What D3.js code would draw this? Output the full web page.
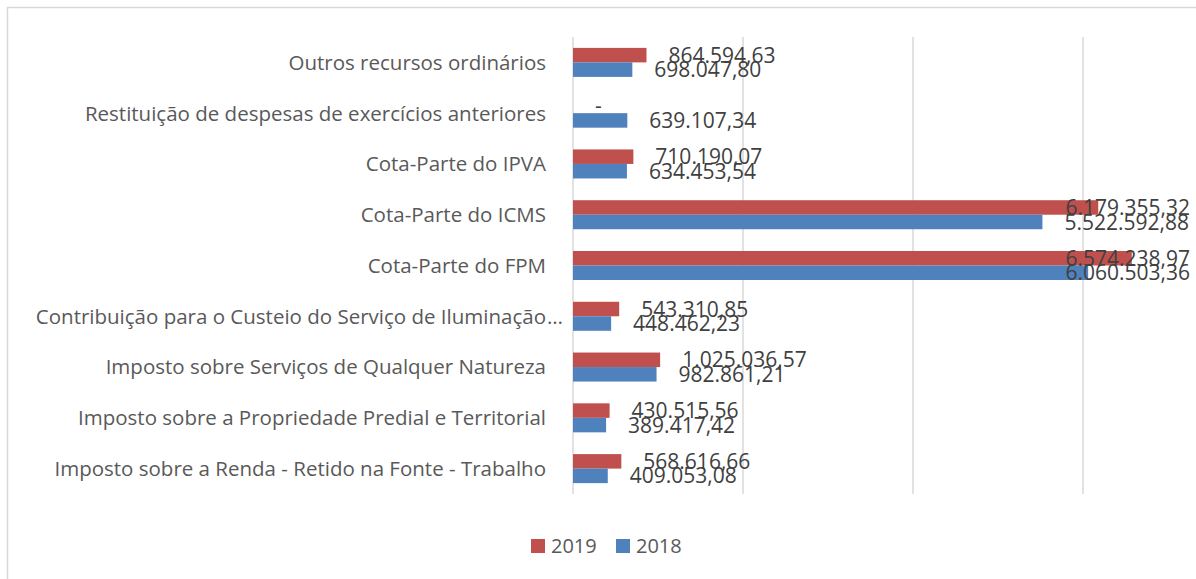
<!DOCTYPE html>
<html><head><meta charset="utf-8">
<script src="https://cdn.jsdelivr.net/npm/d3@7"></script>
<style>body{margin:0;background:#fff}svg{display:block}</style>
</head><body><svg id="c" width="1196" height="579"></svg>
<script>
const categories = [
  "Outros recursos ordinários",
  "Restituição de despesas de exercícios anteriores",
  "Cota-Parte do IPVA",
  "Cota-Parte do ICMS",
  "Cota-Parte do FPM",
  "Contribuição para o Custeio do Serviço de Iluminação…",
  "Imposto sobre Serviços de Qualquer Natureza",
  "Imposto sobre a Propriedade Predial e Territorial ",
  "Imposto sobre a Renda - Retido na Fonte - Trabalho"
];
const series = ["2019", "2018"];
const values2019 = [864594.63, 0, 710190.07, 6179355.32, 6574238.97, 543310.85, 1025036.57, 430515.56, 568616.66];
const values2018 = [698047.80, 639107.34, 634453.54, 5522592.88, 6060503.36, 448462.23, 982861.21, 389417.42, 409053.08];
const gridTicks = [0, 2000000, 4000000, 6000000, 8000000];
const colors = {"2019": "#C0504D", "2018": "#4F81BD"};

const svg = d3.select("#c");
const plotLeft = 573, plotTop = 37, plotBottom = 494, labelLimit = 1190;

svg.append("rect").attr("x", 7.5).attr("y", 7.5).attr("width", 1300).attr("height", 700)
  .attr("fill", "none").attr("stroke", "#d9d9d9").attr("stroke-width", 1.5);

const x = d3.scaleLinear().domain([0, 8000000]).range([plotLeft, plotLeft + 680]);
const y = d3.scaleBand().domain(categories).range([plotTop, plotBottom]);
const ys = d3.scaleBand().domain(series).range([0, y.bandwidth()]).paddingInner(0).paddingOuter(0.75);

svg.append("g").selectAll("line").data(gridTicks).join("line")
  .attr("x1", d => x(d)).attr("x2", d => x(d))
  .attr("y1", plotTop).attr("y2", plotBottom)
  .attr("stroke", "#d9d9d9").attr("stroke-width", 1.5);

const fmt = d3.formatLocale({decimal: ",", thousands: ".", grouping: [3], currency: ["", ""]}).format(",.2f");

const rows = [];
categories.forEach((c, i) => {
  rows.push({cat: c, s: "2019", v: values2019[i]});
  rows.push({cat: c, s: "2018", v: values2018[i]});
});

svg.append("g").selectAll("rect").data(rows).join("rect")
  .attr("x", x(0))
  .attr("y", d => y(d.cat) + ys(d.s))
  .attr("width", d => x(d.v) - x(0))
  .attr("height", ys.bandwidth())
  .attr("fill", d => colors[d.s]);

const lbl = svg.append("g").selectAll("text").data(rows).join("text")
  .attr("y", d => y(d.cat) + ys(d.s) + ys.bandwidth() / 2)
  .attr("dy", "0.36em")
  .attr("font-family", "'Open Sans', sans-serif")
  .attr("font-size", 21)
  .attr("fill", "#404040")
  .text(d => d.v === 0 ? "-" : fmt(d.v));
lbl.each(function(d) {
  const w = this.getComputedTextLength();
  let xs = x(d.v) + 22;
  if (xs + w > labelLimit) xs = labelLimit - w;
  d3.select(this).attr("x", xs);
});

svg.append("g").selectAll("text").data(categories).join("text")
  .attr("x", 546)
  .attr("y", d => y(d) + y.bandwidth() / 2)
  .attr("dy", "0.36em")
  .attr("text-anchor", "end")
  .attr("font-family", "'Open Sans', sans-serif")
  .attr("font-size", 20.5)
  .attr("fill", "#595959")
  .text(d => d.endsWith("…") ? d.slice(0, -1) : d);
svg.append("g").selectAll("text").data(categories.filter(d => d.endsWith("…"))).join("text")
  .attr("x", 547)
  .attr("y", d => y(d) + y.bandwidth() / 2)
  .attr("dy", "0.36em")
  .attr("font-family", "'Open Sans', sans-serif")
  .attr("font-size", 20.5)
  .attr("fill", "#595959")
  .text("…");

const legend = svg.append("g");
const legendX = [531, 616];
series.forEach((s, i) => {
  legend.append("rect").attr("x", legendX[i]).attr("y", 539).attr("width", 14).attr("height", 14).attr("fill", colors[s]);
  legend.append("text").attr("x", legendX[i] + 20).attr("y", 546).attr("dy", "0.36em")
    .attr("font-family", "'Open Sans', sans-serif").attr("font-size", 20).attr("fill", "#595959").text(s);
});
</script>
</body></html>
